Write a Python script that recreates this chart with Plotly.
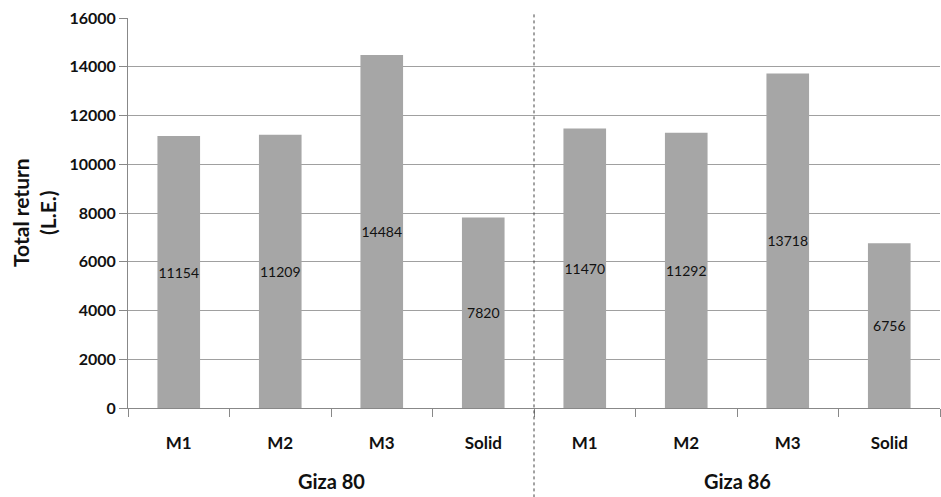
import plotly.graph_objects as go

# Total return per treatment, two cotton varieties
varieties = ["Giza 80", "Giza 86"]
treatments = ["M1", "M2", "M3", "Solid"]
giza80_return = [11154, 11209, 14484, 7820]
giza86_return = [11470, 11292, 13718, 6756]
y_ticks = [0, 2000, 4000, 6000, 8000, 10000, 12000, 14000, 16000]

values = giza80_return + giza86_return
labels = treatments * len(varieties)
xpos = list(range(len(values)))

font_main = "Lato, 'Open Sans', sans-serif"

fig = go.Figure()
fig.add_trace(go.Bar(
    x=xpos,
    y=values,
    width=0.42,
    marker=dict(color="#a6a6a6", line=dict(width=0)),
    text=[str(v) for v in values],
    textposition="inside",
    insidetextanchor="middle",
    textangle=0,
    textfont=dict(family=font_main, size=14, color="#111111"),
    constraintext="none",
    cliponaxis=False,
    hoverinfo="skip",
))

# group labels under each block of treatments
n = len(treatments)
for i, name in enumerate(varieties):
    fig.add_annotation(
        x=i * n + (n - 1) / 2, y=0, xref="x", yref="paper",
        yshift=-73, yanchor="middle", text="<b>%s</b>" % name, showarrow=False,
        font=dict(family=font_main, size=20, color="#111111"),
    )

# dotted divider between the two varieties
for i in range(1, len(varieties)):
    fig.add_shape(
        type="line", xref="x", yref="paper",
        x0=i * n - 0.5, x1=i * n - 0.5, y0=-0.26, y1=1.01,
        line=dict(color="#444444", width=1, dash="dot"),
    )

fig.add_annotation(
    x=0, y=0.5, xref="paper", yref="paper", xshift=-94, xanchor="center",
    text="<b>Total return</b><br><b>(L.E.)</b>", showarrow=False,
    textangle=-90, font=dict(family=font_main, size=21, color="#111111"),
)

fig.update_layout(
    width=941, height=497,
    margin=dict(l=128, r=1, t=18, b=89),
    paper_bgcolor="white", plot_bgcolor="white",
    showlegend=False,
    bargap=0.58,
)
fig.update_xaxes(
    range=[-0.5, len(values) - 0.5],
    tickvals=xpos, ticktext=["<b>%s</b>" % t for t in labels],
    ticks="", ticklabelstandoff=20,
    tickfont=dict(family=font_main, size=17, color="#111111"),
    minor=dict(tick0=-0.5, dtick=1, ticks="outside", ticklen=8,
               tickcolor="#888888", showgrid=False),
    showline=True, linecolor="#888888", linewidth=1,
    showgrid=False, zeroline=False,
)
fig.update_yaxes(
    range=[0, 16000], tickvals=y_ticks,
    ticktext=["<b>%d</b>" % t for t in y_ticks],
    ticks="outside", ticklen=8, tickcolor="#888888",
    tickfont=dict(family=font_main, size=16, color="#111111"),
    showline=True, linecolor="#888888", linewidth=1,
    showgrid=True, gridcolor="#a0a0a0", gridwidth=1,
    zeroline=False,
)

fig.write_html("out.html")
